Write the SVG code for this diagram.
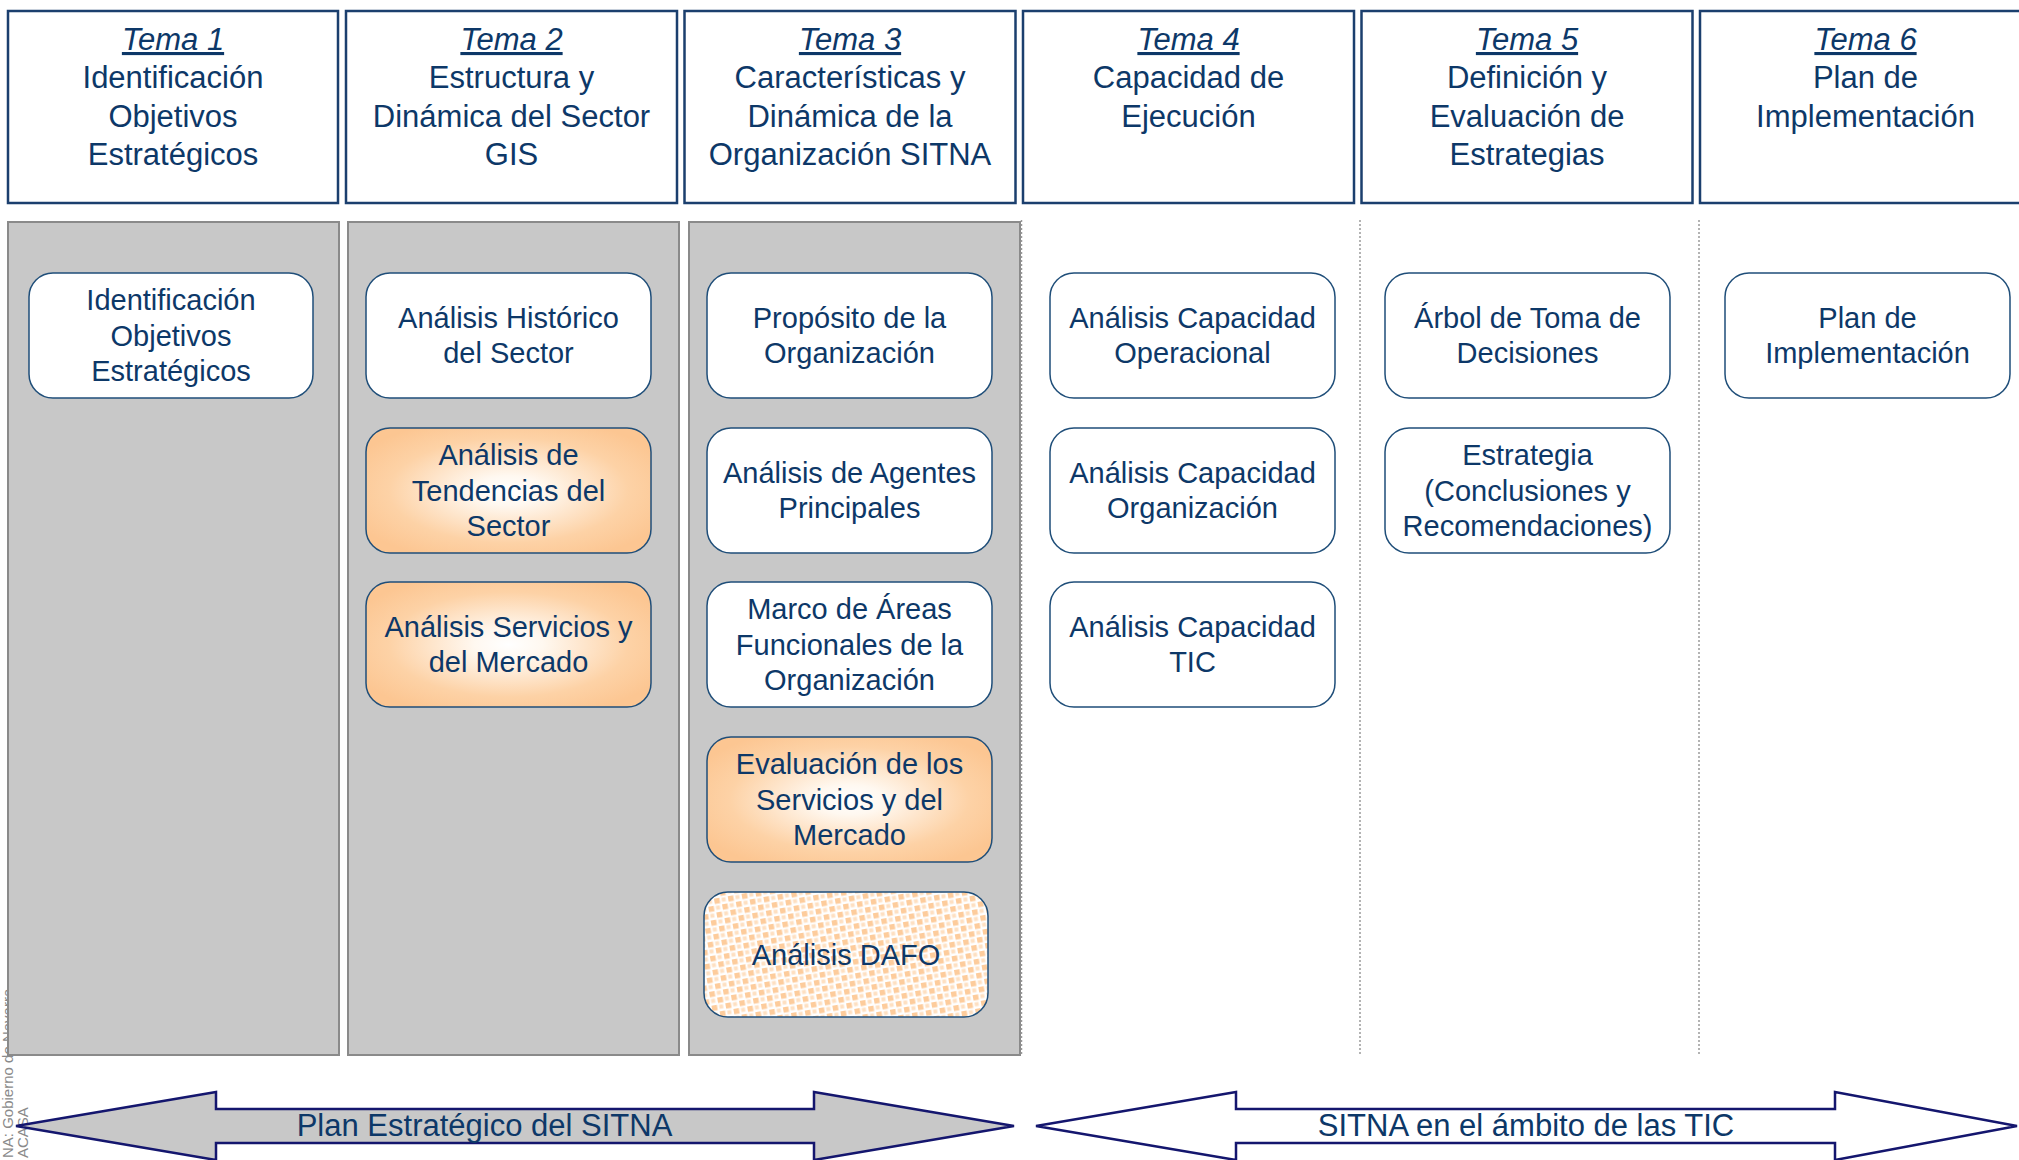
<svg xmlns="http://www.w3.org/2000/svg" width="2019" height="1160" viewBox="0 0 2019 1160">
<style>
  text { font-family: "Liberation Sans", Arial, sans-serif; fill: #0d3868; }
  .hdrbox { fill: #ffffff; stroke: #1b3f6e; stroke-width: 2.5; }
  .hdr { font-size: 31px; text-anchor: middle; }
  .tema { font-style: italic; text-decoration: underline; }
  .panel { fill: #c8c8c8; stroke: #8a8a8a; stroke-width: 2; }
  .sep { stroke: #9a9a9a; stroke-width: 1.5; stroke-dasharray: 2 2; fill: none; }
  .box { stroke: #1f4e79; stroke-width: 1.5; }
  .white { fill: #ffffff; }
  .orange { fill: url(#og); }
  .dafo { fill: url(#dots); }
  .lbl { font-size: 29px; text-anchor: middle; }
  .arrow { stroke: #14166e; stroke-width: 2.5; stroke-linejoin: miter; }
  .atext { font-size: 31px; text-anchor: middle; }
  .side { font-size: 15px; fill: #8a8a8a; }
</style>
<defs>
  <radialGradient id="og" cx="0.5" cy="0.5" r="0.6">
    <stop offset="0" stop-color="#ffffff"/>
    <stop offset="0.2" stop-color="#fff8f0"/>
    <stop offset="0.7" stop-color="#fdd2a6"/>
    <stop offset="1" stop-color="#fcc692"/>
  </radialGradient>
  <pattern id="dots" patternUnits="userSpaceOnUse" width="14" height="14" patternTransform="rotate(-10)">
    <rect width="14" height="14" fill="#ffffff"/>
    <rect x="1" y="1" width="5.5" height="5.5" fill="#fdcc9c"/>
    <rect x="8" y="8" width="5.5" height="5.5" fill="#fdcc9c"/>
    <rect x="8.5" y="1.5" width="4" height="4" fill="#fee0c2"/>
    <rect x="1.5" y="8.5" width="4" height="4" fill="#fee0c2"/>
  </pattern>
</defs>

<!-- side note -->
<g id="side-note">
  <text class="side" transform="translate(13,1158) rotate(-90)">NA: Gobierno de Navarra</text>
  <text class="side" transform="translate(28,1158) rotate(-90)">ACASA</text>
</g>

<!-- header boxes -->
<g id="tema1">
  <rect class="hdrbox" x="8" y="11" width="330" height="192"/>
  <text class="hdr"><tspan class="tema" x="173" y="50">Tema 1</tspan><tspan x="173" y="88">Identificación</tspan><tspan x="173" y="127">Objetivos</tspan><tspan x="173" y="165">Estratégicos</tspan></text>
</g>
<g id="tema2">
  <rect class="hdrbox" x="346" y="11" width="331" height="192"/>
  <text class="hdr"><tspan class="tema" x="511.5" y="50">Tema 2</tspan><tspan x="511.5" y="88">Estructura y</tspan><tspan x="511.5" y="127">Dinámica del Sector</tspan><tspan x="511.5" y="165">GIS</tspan></text>
</g>
<g id="tema3">
  <rect class="hdrbox" x="684.5" y="11" width="331" height="192"/>
  <text class="hdr"><tspan class="tema" x="850" y="50">Tema 3</tspan><tspan x="850" y="88">Características y</tspan><tspan x="850" y="127">Dinámica de la</tspan><tspan x="850" y="165">Organización SITNA</tspan></text>
</g>
<g id="tema4">
  <rect class="hdrbox" x="1023" y="11" width="331" height="192"/>
  <text class="hdr"><tspan class="tema" x="1188.5" y="50">Tema 4</tspan><tspan x="1188.5" y="88">Capacidad de</tspan><tspan x="1188.5" y="127">Ejecución</tspan></text>
</g>
<g id="tema5">
  <rect class="hdrbox" x="1361.5" y="11" width="331" height="192"/>
  <text class="hdr"><tspan class="tema" x="1527" y="50">Tema 5</tspan><tspan x="1527" y="88">Definición y</tspan><tspan x="1527" y="127">Evaluación de</tspan><tspan x="1527" y="165">Estrategias</tspan></text>
</g>
<g id="tema6">
  <rect class="hdrbox" x="1700" y="11" width="331" height="192"/>
  <text class="hdr"><tspan class="tema" x="1865.5" y="50">Tema 6</tspan><tspan x="1865.5" y="88">Plan de</tspan><tspan x="1865.5" y="127">Implementación</tspan></text>
</g>

<!-- column panels -->
<g id="panels">
  <rect class="panel" x="8" y="222" width="331" height="833"/>
  <rect class="panel" x="348" y="222" width="331" height="833"/>
  <rect class="panel" x="689" y="222" width="331" height="833"/>
  <line class="sep" x1="1021.5" y1="220" x2="1021.5" y2="1054"/>
  <line class="sep" x1="1360" y1="220" x2="1360" y2="1054"/>
  <line class="sep" x1="1699" y1="220" x2="1699" y2="1054"/>
</g>

<!-- column 1 -->
<g id="n-identificacion">
  <rect class="box white" x="29" y="273" width="284" height="125" rx="24"/>
  <text class="lbl"><tspan x="171" y="310">Identificación</tspan><tspan x="171" y="345.5">Objetivos</tspan><tspan x="171" y="381">Estratégicos</tspan></text>
</g>

<!-- column 2 -->
<g id="n-historico">
  <rect class="box white" x="366" y="273" width="285" height="125" rx="24"/>
  <text class="lbl"><tspan x="508.5" y="327.75">Análisis Histórico</tspan><tspan x="508.5" y="363.25">del Sector</tspan></text>
</g>
<g id="n-tendencias">
  <rect class="box orange" x="366" y="428" width="285" height="125" rx="24"/>
  <text class="lbl"><tspan x="508.5" y="465">Análisis de</tspan><tspan x="508.5" y="500.5">Tendencias del</tspan><tspan x="508.5" y="536">Sector</tspan></text>
</g>
<g id="n-servicios">
  <rect class="box orange" x="366" y="582" width="285" height="125" rx="24"/>
  <text class="lbl"><tspan x="508.5" y="636.75">Análisis Servicios y</tspan><tspan x="508.5" y="672.25">del Mercado</tspan></text>
</g>

<!-- column 3 -->
<g id="n-proposito">
  <rect class="box white" x="707" y="273" width="285" height="125" rx="24"/>
  <text class="lbl"><tspan x="849.5" y="327.75">Propósito de la</tspan><tspan x="849.5" y="363.25">Organización</tspan></text>
</g>
<g id="n-agentes">
  <rect class="box white" x="707" y="428" width="285" height="125" rx="24"/>
  <text class="lbl"><tspan x="849.5" y="482.75">Análisis de Agentes</tspan><tspan x="849.5" y="518.25">Principales</tspan></text>
</g>
<g id="n-marco">
  <rect class="box white" x="707" y="582" width="285" height="125" rx="24"/>
  <text class="lbl"><tspan x="849.5" y="619">Marco de Áreas</tspan><tspan x="849.5" y="654.5">Funcionales de la</tspan><tspan x="849.5" y="690">Organización</tspan></text>
</g>
<g id="n-evaluacion">
  <rect class="box orange" x="707" y="737" width="285" height="125" rx="24"/>
  <text class="lbl"><tspan x="849.5" y="774">Evaluación de los</tspan><tspan x="849.5" y="809.5">Servicios y del</tspan><tspan x="849.5" y="845">Mercado</tspan></text>
</g>
<g id="n-dafo">
  <rect class="box dafo" x="704" y="892" width="284" height="125" rx="24"/>
  <text class="lbl"><tspan x="846" y="964.5">Análisis DAFO</tspan></text>
</g>

<!-- column 4 -->
<g id="n-operacional">
  <rect class="box white" x="1050" y="273" width="285" height="125" rx="24"/>
  <text class="lbl"><tspan x="1192.5" y="327.75">Análisis Capacidad</tspan><tspan x="1192.5" y="363.25">Operacional</tspan></text>
</g>
<g id="n-organizacion">
  <rect class="box white" x="1050" y="428" width="285" height="125" rx="24"/>
  <text class="lbl"><tspan x="1192.5" y="482.75">Análisis Capacidad</tspan><tspan x="1192.5" y="518.25">Organización</tspan></text>
</g>
<g id="n-tic">
  <rect class="box white" x="1050" y="582" width="285" height="125" rx="24"/>
  <text class="lbl"><tspan x="1192.5" y="636.75">Análisis Capacidad</tspan><tspan x="1192.5" y="672.25">TIC</tspan></text>
</g>

<!-- column 5 -->
<g id="n-arbol">
  <rect class="box white" x="1385" y="273" width="285" height="125" rx="24"/>
  <text class="lbl"><tspan x="1527.5" y="327.75">Árbol de Toma de</tspan><tspan x="1527.5" y="363.25">Decisiones</tspan></text>
</g>
<g id="n-estrategia">
  <rect class="box white" x="1385" y="428" width="285" height="125" rx="24"/>
  <text class="lbl"><tspan x="1527.5" y="465">Estrategia</tspan><tspan x="1527.5" y="500.5">(Conclusiones y</tspan><tspan x="1527.5" y="536">Recomendaciones)</tspan></text>
</g>

<!-- column 6 -->
<g id="n-plan">
  <rect class="box white" x="1725" y="273" width="285" height="125" rx="24"/>
  <text class="lbl"><tspan x="1867.5" y="327.75">Plan de</tspan><tspan x="1867.5" y="363.25">Implementación</tspan></text>
</g>

<!-- bottom double arrows -->
<g id="connectors">
  <g id="arrow-plan">
    <polygon class="arrow" fill="#c8c8c8" points="16,1126 216,1092 216,1109 814,1109 814,1092 1014,1126 814,1160 814,1143 216,1143 216,1160"/>
    <text class="atext" x="484.5" y="1136">Plan Estratégico del SITNA</text>
  </g>
  <g id="arrow-tic">
    <polygon class="arrow" fill="#ffffff" points="1036,1126 1236,1092 1236,1109 1835,1109 1835,1092 2017,1126 1835,1160 1835,1143 1236,1143 1236,1160"/>
    <text class="atext" x="1526" y="1136">SITNA en el ámbito de las TIC</text>
  </g>
</g>
</svg>
